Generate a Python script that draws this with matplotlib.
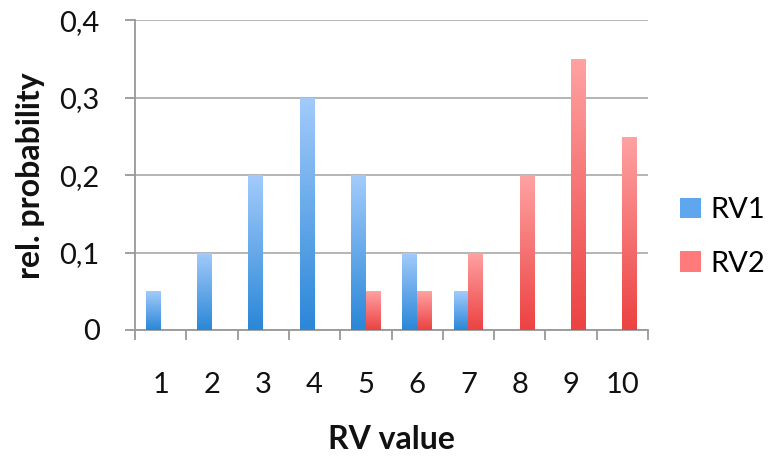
import numpy as np
import matplotlib.pyplot as plt
from matplotlib.colors import LinearSegmentedColormap
from matplotlib.patches import Patch
from matplotlib.ticker import FuncFormatter

plt.rcParams['font.family'] = ['Lato', 'DejaVu Sans']

# Data
categories = ['1', '2', '3', '4', '5', '6', '7', '8', '9', '10']
rv1 = [0.05, 0.1, 0.2, 0.3, 0.2, 0.1, 0.05, 0, 0, 0]
rv2 = [0, 0, 0, 0, 0.05, 0.05, 0.1, 0.2, 0.35, 0.25]
series_names = ['RV1', 'RV2']

blue_cmap = LinearSegmentedColormap.from_list('b', ['#2b87d8', '#a2cbfb'])
red_cmap = LinearSegmentedColormap.from_list('r', ['#ec4242', '#ffa2a2'])

fig = plt.figure(figsize=(7.71, 4.63), dpi=100)
ax = fig.add_axes([0.1751, 0.2873, 0.6654, 0.6685])

x = np.arange(len(categories))
w = 0.29
grad = np.linspace(1, 0, 100).reshape(-1, 1)  # light at top, dark at bottom


def gradient_bars(xpos, vals, cmap):
    bars = ax.bar(xpos, vals, width=w, color='none', edgecolor='none', zorder=3)
    for b in bars:
        h = b.get_height()
        if h <= 0:
            continue
        x0 = b.get_x()
        im = ax.imshow(grad, cmap=cmap, vmin=0, vmax=1, aspect='auto',
                       extent=(x0, x0 + b.get_width(), 0, h), zorder=3,
                       interpolation='bicubic')
        im.set_clip_path(b)
    return bars


gradient_bars(x - w / 2, rv1, blue_cmap)
gradient_bars(x + w / 2, rv2, red_cmap)

ax.set_xlim(-0.5, len(categories) - 0.5)
ax.set_ylim(0, 0.4)

# y axis
ax.set_yticks([0, 0.1, 0.2, 0.3, 0.4])
ax.yaxis.set_major_formatter(FuncFormatter(
    lambda v, p: '0' if v == 0 else ('%.1f' % v).replace('.', ',')))
ax.yaxis.grid(True, color='#b4b4b4', linewidth=1.4, zorder=0)
ax.set_axisbelow(True)

# x axis: labels at centres, tick marks between categories
ax.set_xticks(x)
ax.set_xticklabels(categories)
ax.set_xticks(np.arange(-0.5, len(categories)), minor=True)
ax.tick_params(axis='x', which='major', length=0, pad=30, labelsize=21, labelcolor='#111111')
ax.tick_params(axis='x', which='minor', length=7.5, width=1.3, color='#999999')
ax.tick_params(axis='y', length=7.5, width=1.3, color='#999999', pad=18,
               labelsize=21, labelcolor='#111111')

for s in ['top', 'right']:
    ax.spines[s].set_visible(False)
for s in ['left', 'bottom']:
    ax.spines[s].set_color('#999999')
    ax.spines[s].set_linewidth(1.3)

ax.set_xlabel('RV value', fontsize=23, fontweight='bold', labelpad=20, color='#111111')
ax.set_ylabel('rel. probability', fontsize=23, fontweight='bold', labelpad=10, color='#111111')

handles = [Patch(facecolor='#5ea7ee', edgecolor='none'),
           Patch(facecolor='#ff7a7a', edgecolor='none')]
ax.legend(handles, series_names, loc='center left', bbox_to_anchor=(1.012, 0.30),
          frameon=False, fontsize=21, handlelength=0.72, handleheight=0.72,
          handletextpad=0.3, labelspacing=0.95)

fig.savefig('out.png', dpi=100)
